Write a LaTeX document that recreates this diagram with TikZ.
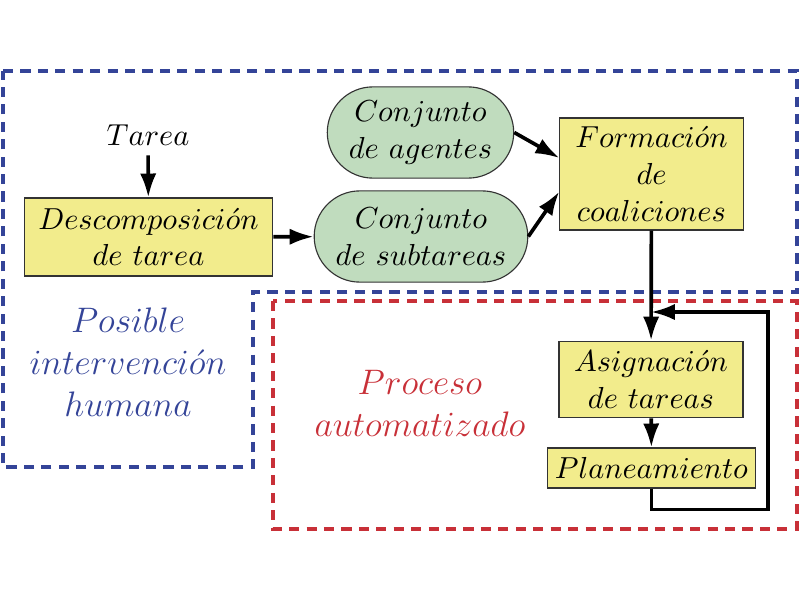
\documentclass[tikz,border=0pt]{standalone}
\usepackage{fix-cm}
\usetikzlibrary{arrows.meta,shapes.misc}
\definecolor{boxyellow}{RGB}{242,236,140}
\definecolor{setgreen}{RGB}{192,220,190}
\definecolor{humanblue}{RGB}{52,68,152}
\definecolor{autored}{RGB}{200,48,56}
\tikzset{
  every node/.style={font=\fontsize{10.8}{13}\selectfont},
  task/.style={draw=black!80,fill=boxyellow,thin,align=center,inner sep=2pt},
  group/.style={draw=black!80,fill=setgreen,thin,align=center,rounded rectangle,inner sep=2pt},
  flow/.style={-{Latex[length=8.5pt,width=5.8pt]},line width=1.3pt},
  region/.style={dash pattern=on 3.6pt off 2.6pt,line width=1.25pt},
  regionlabel/.style={align=center,font=\fontsize{12.6}{15}\selectfont},
}
\begin{document}
\begin{tikzpicture}[x=0.0125cm,y=-0.0125cm]
\useasboundingbox (0,0) rectangle (800,600);
% regiones
\draw [region,humanblue] (3,71) -- (797,71) -- (797,292) -- (253,292) -- (253,467) -- (3,467) -- cycle;
\draw [region,autored] (273,301) rectangle (797,529);
\node [regionlabel,humanblue] (human) at (128,362) {$Posible$\\$intervenci\acute{o}n$\\$humana$};
\node [regionlabel,autored] (auto) at (420,403) {$Proceso$\\$automatizado$};
% nodos
\node (tarea) at (148,135) {$Tarea$};
\node [task,minimum width=3.11cm,minimum height=0.975cm] (desc) at (148.5,237) {$Descomposici\acute{o}n$\\$de\ tarea$};
\node [group,minimum width=2.47cm,minimum height=1.14cm] (agentes) at (420.5,132.5) {$Conjunto$\\$de\ agentes$};
\node [group,minimum width=2.81cm,minimum height=1.14cm] (subtareas) at (421,236.5) {$Conjunto$\\$de\ subtareas$};
\node [task,minimum width=2.29cm,minimum height=1.4cm] (formacion) at (651.5,174) {$Formaci\acute{o}n$\\$de$\\$coaliciones$};
\node [task,minimum width=2.3cm,minimum height=0.96cm] (asign) at (651,379.5) {$Asignaci\acute{o}n$\\$de\ tareas$};
\node [task,minimum width=2.59cm,minimum height=0.5cm] (plan) at (651.5,468) {$Planeamiento$};
\coordinate (join) at (651,312);
% conexiones
\draw [flow] (tarea) -- (desc);
\draw [flow] (desc) -- (subtareas);
\draw [flow] (agentes.east) -- ([yshift=0.2cm]formacion.west);
\draw [flow] (subtareas.east) -- ([yshift=-0.22cm]formacion.west);
\draw [flow] (formacion) -- (asign);
\draw [flow] (asign) -- (plan);
\draw [flow] (plan.south) -- ++(0,21) -| (768,312) -- (join);
\end{tikzpicture}
\end{document}
